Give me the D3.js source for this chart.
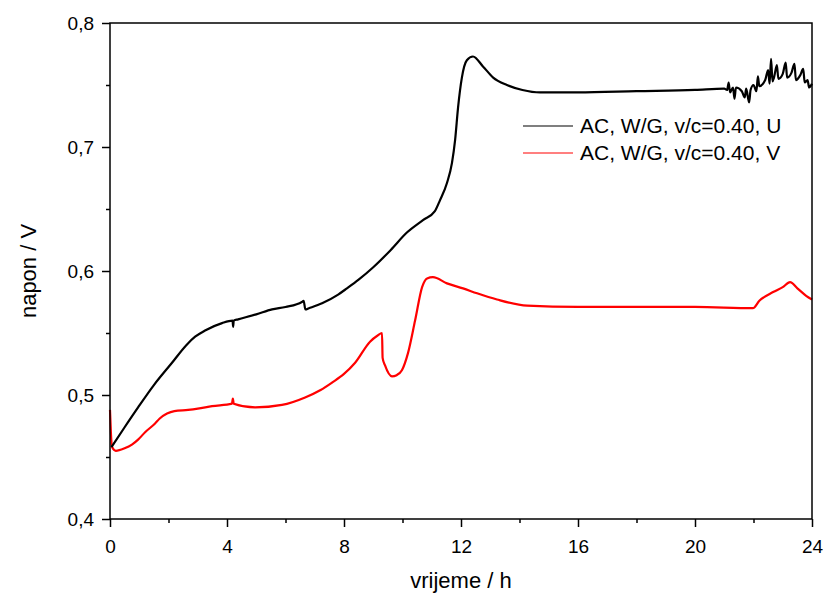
<!DOCTYPE html>
<html><head><meta charset="utf-8">
<script src="https://cdn.jsdelivr.net/npm/d3@7"></script>
<style>
body{margin:0;background:#fff;}
text{font-family:"Liberation Sans",Arial,sans-serif;fill:#000;}
</style></head>
<body><svg id="c" width="826" height="600"></svg>
<script>
// Series U (black)
const uTime = [0.05,0.5,0.96,1.5,2.12,2.6,2.91,3.25,3.83,4.19,4.21,4.23,4.38,5.0,5.54,6.0,6.56,6.62,6.68,6.8,7.25,7.8,8.1,8.5,9.0,9.6,10.15,10.7,11.1,11.28,11.52,11.69,11.8,11.9,12.03,12.2,12.41,12.75,13.1,13.57,14.1,14.7,16,18,20,21,
  21.1,21.15,21.2,21.3,21.35,21.4,21.6,21.7,21.75,21.85,21.9,22.0,22.1,22.15,22.2,22.4,22.5,22.55,22.6,22.65,22.7,22.8,22.85,23.0,23.1,23.15,23.3,23.4,23.45,23.6,23.7,23.75,23.85,23.9,24];
const uVolt = [0.458,0.474,0.490,0.508,0.526,0.540,0.547,0.552,0.558,0.560,0.555,0.560,0.561,0.565,0.569,0.571,0.575,0.576,0.569,0.570,0.574,0.581,0.586,0.593,0.603,0.617,0.631,0.641,0.648,0.657,0.671,0.687,0.706,0.732,0.756,0.770,0.773,0.765,0.756,0.750,0.746,0.744,0.744,0.745,0.746,0.747,
  0.746,0.752,0.744,0.748,0.739,0.748,0.745,0.740,0.747,0.736,0.746,0.750,0.745,0.757,0.749,0.754,0.762,0.751,0.771,0.753,0.756,0.766,0.755,0.759,0.768,0.756,0.760,0.767,0.754,0.758,0.763,0.752,0.754,0.748,0.751];
// Series V (red)
const vTime = [0.0,0.03,0.07,0.2,0.5,0.75,0.96,1.2,1.54,1.7,1.95,2.2,2.67,3.0,3.49,4.17,4.2,4.23,4.96,5.88,6.67,7.2,7.59,8.0,8.38,8.89,9.15,9.3,9.32,9.4,9.64,9.8,9.98,10.19,10.43,10.67,10.84,11.04,11.52,12.07,12.55,13.23,14.26,16,18,20,21.98,22.2,22.67,23.0,23.25,23.5,23.8,24];
const vVolt = [0.488,0.470,0.458,0.455,0.457,0.460,0.464,0.470,0.477,0.481,0.485,0.487,0.488,0.489,0.491,0.493,0.497,0.493,0.490,0.492,0.498,0.504,0.510,0.517,0.526,0.543,0.548,0.550,0.530,0.524,0.515,0.516,0.520,0.534,0.560,0.587,0.594,0.595,0.590,0.586,0.582,0.577,0.572,0.571,0.571,0.571,0.570,0.576,0.583,0.587,0.591,0.586,0.580,0.577];
const xTicks = [0,4,8,12,16,20,24];
const xMinor = [2,6,10,14,18,22];
const yTicks = [0.4,0.5,0.6,0.7,0.8];
const yMinor = [0.45,0.55,0.65,0.75];
const yTickLabels = ["0,4","0,5","0,6","0,7","0,8"];
const seriesNames = ["AC, W/G, v/c=0.40, U","AC, W/G, v/c=0.40, V"];
const seriesColors = ["#000000","#ff0000"];

const L=110,R=812,T=23,B=519;
const svg=d3.select("#c");
const x=d3.scaleLinear().domain([0,24]).range([L,R]);
const y=d3.scaleLinear().domain([0.4,0.8]).range([B,T]);

const line=d3.line().curve(d3.curveMonotoneX).x(d=>x(d[0])).y(d=>y(d[1]));
svg.append("path").datum(vTime.map((t,i)=>[t,vVolt[i]])).attr("d",line)
  .attr("fill","none").attr("stroke",seriesColors[1]).attr("stroke-width",2.2);
svg.append("path").datum(uTime.map((t,i)=>[t,uVolt[i]])).attr("d",line)
  .attr("fill","none").attr("stroke",seriesColors[0]).attr("stroke-width",2.2);

// frame
svg.append("rect").attr("x",L).attr("y",T).attr("width",R-L).attr("height",B-T)
  .attr("fill","none").attr("stroke","#000").attr("stroke-width",1.5);

// x axis
const gx=svg.append("g").attr("transform",`translate(0,${B})`)
  .call(d3.axisBottom(x).tickValues(xTicks).tickSize(8).tickFormat(d3.format("d")));
gx.select(".domain").remove();
gx.selectAll("line").attr("stroke-width",1.5);
gx.selectAll("text").attr("font-size",19).attr("dy",0).attr("y",34).style("font-family","Liberation Sans, Arial, sans-serif");
svg.append("g").attr("transform",`translate(0,${B})`)
  .call(d3.axisBottom(x).tickValues(xMinor).tickSize(4).tickFormat(""))
  .call(g=>g.select(".domain").remove()).selectAll("line").attr("stroke-width",1.5);

// y axis
const gy=svg.append("g").attr("transform",`translate(${L},0)`)
  .call(d3.axisLeft(y).tickValues(yTicks).tickSize(8).tickFormat((d,i)=>yTickLabels[i]));
gy.select(".domain").remove();
gy.selectAll("line").attr("stroke-width",1.5);
gy.selectAll("text").attr("font-size",19).attr("x",-16).style("font-family","Liberation Sans, Arial, sans-serif");
svg.append("g").attr("transform",`translate(${L},0)`)
  .call(d3.axisLeft(y).tickValues(yMinor).tickSize(4).tickFormat(""))
  .call(g=>g.select(".domain").remove()).selectAll("line").attr("stroke-width",1.5);

// titles
svg.append("text").attr("x",(L+R)/2).attr("y",588).attr("text-anchor","middle").attr("font-size",22).text("vrijeme / h");
svg.append("text").attr("transform",`translate(36,${(T+B)/2}) rotate(-90)`).attr("text-anchor","middle").attr("font-size",22).text("napon / V");

// legend
const leg=svg.append("g");
seriesNames.forEach((n,i)=>{
  const yy=126+i*27;
  leg.append("line").attr("x1",523).attr("x2",573).attr("y1",yy).attr("y2",yy).attr("stroke",seriesColors[i]).attr("stroke-width",1.2);
  leg.append("text").attr("x",580).attr("y",yy+7).attr("font-size",21).text(n);
});
</script></body></html>
